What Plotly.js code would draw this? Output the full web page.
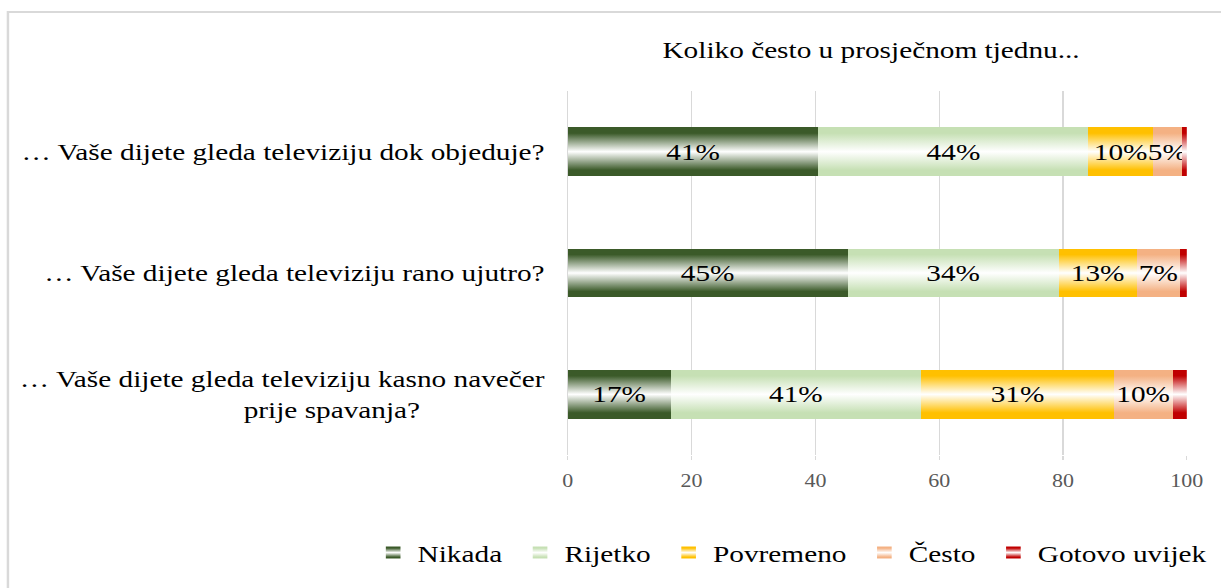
<!DOCTYPE html>
<html><head><meta charset="utf-8">
<script src="https://cdn.plot.ly/plotly-3.0.1.min.js"></script>
<style>
html,body{margin:0;padding:0;background:#fff;overflow:hidden;}
#wrap{width:1221px;height:588px;overflow:hidden;position:relative;background:#fff;}
#chart{width:1000px;height:588px;transform:scaleX(1.221);transform-origin:0 0;}
</style></head><body><div id="wrap"><div id="chart"></div></div>
<script>
// ---- data ----
const questions = [
  '… Vaše dijete gleda televiziju dok objeduje?',
  '… Vaše dijete gleda televiziju rano ujutro?',
  '… Vaše dijete gleda televiziju kasno navečer<br>prije spavanja?'
];
const seriesNames = ['Nikada', 'Rijetko', 'Povremeno', 'Često', 'Gotovo uvijek'];
const nikada       = [40.5, 45.2, 16.6];
const rijetko      = [43.6, 34.1, 40.5];
const povremeno    = [10.4, 12.6, 31.1];
const cesto        = [4.7, 7.0, 9.5];
const gotovoUvijek = [0.8, 1.1, 2.3];
const xTickVals = [0, 20, 40, 60, 80, 100];
const chartTitle = 'Koliko često u prosječnom tjednu...';

// ---- styling ----
const seriesValues = [nikada, rijetko, povremeno, cesto, gotovoUvijek];
const colors = ['#3b5a29', '#c6e0b4', '#ffc000', '#f4b183', '#c00000'];
const showLabel = [true, true, true, true, false];
const FONT = '"Liberation Serif", "Times New Roman", serif';

const traces = seriesNames.map((name, i) => ({
  type: 'bar',
  orientation: 'h',
  name: name + '\u00a0',
  y: questions,
  x: seriesValues[i],
  marker: {color: colors[i], line: {width: 0}},
  text: seriesValues[i].map(v => Math.round(v) + '%'),
  textposition: showLabel[i] ? 'inside' : 'none',
  textangle: 0,
  insidetextanchor: 'middle',
  constraintext: 'none',
  insidetextfont: {family: FONT, size: 24, color: '#000'},
  hoverinfo: 'none'
}));

// second line of wrapped label is shifted left like in the original
const tickText = questions.map(q => {
  const parts = q.split('<br>');
  if (parts.length < 2) return q;
  return parts[0] + '<br>' + parts[1] + '\u00a0'.repeat(17);
});

const PLOT_L = 465, PLOT_W = 507, PLOT_T = 91, PLOT_H = 364;

const layout = {
  width: 1000, height: 588,
  margin: {l: PLOT_L, r: 1000 - PLOT_L - PLOT_W, t: PLOT_T, b: 588 - PLOT_T - PLOT_H},
  paper_bgcolor: '#fff', plot_bgcolor: '#fff',
  barmode: 'stack',
  bargap: 0.6,
  showlegend: true,
  title: {
    text: chartTitle,
    font: {family: FONT, size: 24, color: '#000'},
    xref: 'paper', x: 0.49, xanchor: 'center',
    yref: 'container', y: 1 - 50/588, yanchor: 'middle'
  },
  xaxis: {
    range: [0, 100],
    tickvals: xTickVals,
    showgrid: true, gridcolor: '#d9d9d9', gridwidth: 1,
    zeroline: true, zerolinecolor: '#d9d9d9', zerolinewidth: 1,
    showline: false,
    ticks: 'outside', ticklen: 4, tickcolor: '#d9d9d9',
    ticklabelstandoff: 5,
    tickfont: {family: FONT, size: 18, color: '#595959'},
    fixedrange: true
  },
  yaxis: {
    type: 'category',
    autorange: 'reversed',
    tickvals: questions,
    ticktext: tickText,
    showgrid: false, zeroline: false, showline: false,
    ticks: '',
    ticklabelstandoff: 18,
    tickfont: {family: FONT, size: 24, color: '#000'},
    fixedrange: true
  },
  legend: {
    orientation: 'h',
    traceorder: 'normal',
    xref: 'paper', x: (302 - PLOT_L) / PLOT_W, xanchor: 'left',
    yref: 'paper', y: (PLOT_T + PLOT_H - 553) / PLOT_H, yanchor: 'middle',
    font: {family: FONT, size: 24, color: '#000'},
    bgcolor: 'rgba(0,0,0,0)', borderwidth: 0
  },
  shapes: [{
    type: 'rect', xref: 'paper', yref: 'paper',
    x0: (6.5 - PLOT_L) / PLOT_W, x1: 2, y0: -2, y1: (PLOT_T + PLOT_H - 12) / PLOT_H,
    line: {color: '#d9d9d9', width: 2}, fillcolor: 'rgba(0,0,0,0)', layer: 'below'
  }]
};

function applyGradients(gd) {
  const svg = gd.querySelector('svg.main-svg');
  if (!svg) return;
  const NS = 'http://www.w3.org/2000/svg';
  let defs = svg.querySelector('defs#bar-gradients');
  if (!defs) {
    defs = document.createElementNS(NS, 'defs');
    defs.setAttribute('id', 'bar-gradients');
    svg.insertBefore(defs, svg.firstChild);
    colors.forEach((c, i) => {
      const lg = document.createElementNS(NS, 'linearGradient');
      lg.setAttribute('id', 'bargrad' + i);
      lg.setAttribute('x1', '0'); lg.setAttribute('y1', '0');
      lg.setAttribute('x2', '0'); lg.setAttribute('y2', '1');
      [[0, c], [0.12, c], [0.5, '#ffffff'], [0.88, c], [1, c]].forEach(([o, col]) => {
        const s = document.createElementNS(NS, 'stop');
        s.setAttribute('offset', o);
        s.setAttribute('stop-color', col);
        lg.appendChild(s);
      });
      defs.appendChild(lg);
    });
  }
  const getIdx = (el, fallback) => {
    const d = el.__data__;
    if (d && d[0] && d[0].trace && typeof d[0].trace.index === 'number') return d[0].trace.index;
    return fallback;
  };
  gd.querySelectorAll('.barlayer .trace').forEach((tr, k) => {
    const idx = getIdx(tr, k);
    tr.querySelectorAll('.point path').forEach(p => { p.style.fill = 'url(#bargrad' + idx + ')'; });
  });
  gd.querySelectorAll('.legend .traces').forEach((tr, k) => {
    const idx = getIdx(tr, k);
    tr.querySelectorAll('.legendpoints path').forEach(p => { p.style.fill = 'url(#bargrad' + idx + ')'; });
  });
}

const gd = document.getElementById('chart');
Plotly.newPlot(gd, traces, layout, {staticPlot: true, displayModeBar: false}).then(() => {
  applyGradients(gd);
  gd.on && gd.on('plotly_afterplot', () => applyGradients(gd));
});
</script></body></html>
